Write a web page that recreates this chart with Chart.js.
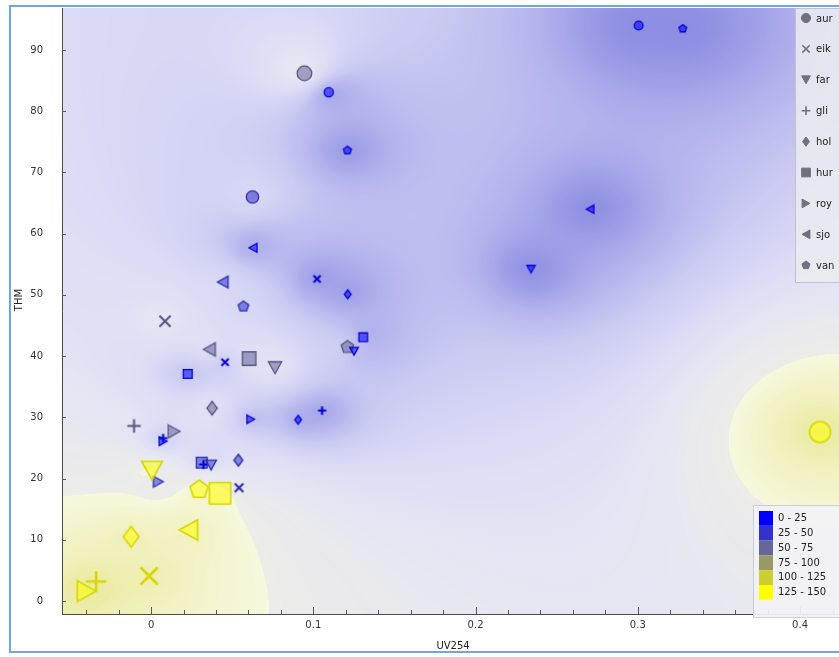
<!DOCTYPE html>
<html>
<head>
<meta charset="utf-8">
<script src="https://cdn.jsdelivr.net/npm/chart.js@4.4.1/dist/chart.umd.min.js"></script>
<style>
  html, body { margin: 0; padding: 0; background: #ffffff; overflow: hidden; }
  #wrap { position: relative; width: 839px; height: 657px; }
  #frame { position: absolute; left: 9px; top: 5px; width: 840px; height: 648px;
           border: 2px solid #6ea8de; border-right: none; box-sizing: border-box; }
  #c { position: absolute; left: 0; top: 0; }
</style>
</head>
<body>
<div id="wrap">
  <div id="frame"></div>
  <canvas id="c" width="839" height="657"></canvas>
</div>
<script>
// Sites, in legend order, and the marker used for each
const categories = ['aur', 'eik', 'far', 'gli', 'hol', 'hur', 'roy', 'sjo', 'van'];
const markerShapes = ['circle', 'cross', 'triDown', 'plus', 'diamond', 'square', 'triRight', 'triLeft', 'pentagon'];

// Samples per site: [UV254, THM, level]
const aur = [[0.0945, 86.2, 66], [0.1095, 83.1, 12], [0.0625, 66.0, 44], [0.3005, 94.0, 8], [0.4123, 27.6, 130]];
const eik = [[0.0086, 45.7, 60], [0.1023, 52.6, 8], [0.0456, 39.0, 10], [0.0542, 18.5, 28], [-0.0012, 4.1, 132]];
const far = [[0.0764, 38.1, 60], [0.1251, 40.8, 12], [0.2342, 54.2, 8], [0.0370, 22.2, 32], [0.0006, 21.3, 138]];
const gli = [[-0.0105, 28.6, 62], [0.0074, 26.6, 10], [0.1054, 31.1, 8], [0.0323, 22.3, 14], [-0.0339, 3.2, 134]];
const hol = [[0.0376, 31.5, 58], [0.0538, 23.0, 40], [0.0906, 29.6, 10], [0.1212, 50.1, 10], [-0.0123, 10.5, 128]];
const hur = [[0.0604, 39.6, 62], [0.0226, 37.1, 14], [0.1307, 43.1, 10], [0.0312, 22.6, 34], [0.0425, 17.6, 146]];
const roy = [[0.0142, 27.7, 58], [0.0614, 29.7, 10], [0.0045, 19.5, 36], [0.0074, 26.1, 12], [-0.0397, 1.6, 140]];
const sjo = [[0.0359, 41.1, 60], [0.0442, 52.1, 44], [0.0628, 57.7, 14], [0.2706, 64.0, 8], [0.0230, 11.6, 136]];
const van = [[0.0569, 48.1, 40], [0.1210, 41.5, 62], [0.1210, 73.6, 12], [0.3277, 93.5, 8], [0.0296, 18.2, 128]];
const samples = [aur, eik, far, gli, hol, hur, roy, sjo, van];

// Level classes shown in the colour key
const levelEdges = [0, 25, 50, 75, 100, 125, 150];
const levelLabels = ['0 - 25', '25 - 50', '50 - 75', '75 - 100', '100 - 125', '125 - 150'];

// Axis extents and tick spacing
const uvMin = -0.0549, uvMax = 0.4240, uvStep = 0.1, uvMinorStep = 0.02;
const thmMin = -2.12, thmMax = 96.86, thmStep = 10;
const xTitle = 'UV254';
const yTitle = 'THM';

const FONT = '"DejaVu Sans", Verdana, sans-serif';
const N_CLASSES = levelLabels.length;

// ---- colours: one per level class, blue (low) to yellow (high) ----
const classColors = levelLabels.map((_, i) => {
  const t = i / (N_CLASSES - 1);
  return [Math.round(255 * t), Math.round(255 * t), Math.round(255 * (1 - t))];
});
function levelClass(v) {
  for (let i = 0; i < N_CLASSES; i++) if (v < levelEdges[i + 1]) return i;
  return N_CLASSES - 1;
}
function rgba(c, a) { return 'rgba(' + c[0] + ',' + c[1] + ',' + c[2] + ',' + a + ')'; }
function shade(c, f) { return [Math.round(c[0] * f), Math.round(c[1] * f), Math.round(c[2] * f)]; }

// Background palette for the interpolated level; cool and warm parts meet at 75
const WARM_FROM = 75;
const coolStops = [[0, [128, 128, 222]], [10, [142, 142, 227]], [18, [160, 160, 232]], [26, [182, 182, 238]],
                   [34, [204, 204, 243]], [42, [219, 219, 246]], [50, [228, 228, 244]], [60, [233, 233, 238]], [75, [236, 236, 232]]];
const warmStops = [[75, [247, 247, 222]], [90, [244, 244, 206]], [110, [240, 240, 188]], [130, [234, 234, 158]], [150, [226, 226, 122]]];
function interpStops(stops, v) {
  let k = 0;
  while (k < stops.length - 2 && v > stops[k + 1][0]) k++;
  const [v0, c0] = stops[k], [v1, c1] = stops[k + 1];
  const f = Math.max(0, Math.min(1, (v - v0) / (v1 - v0)));
  return [0, 1, 2].map(n => Math.round(c0[n] + (c1[n] - c0[n]) * f));
}
const surfaceLUT = [];
for (let i = 0; i <= 600; i++) {
  const v = i / 4;
  surfaceLUT.push(v < WARM_FROM ? interpStops(coolStops, v) : interpStops(warmStops, v));
}

// ---- markers ----
function markerRadius(v) { return 4 + v / 20; }

function traceShape(g, shape, cx, cy, r) {
  g.beginPath();
  const a = r * 0.95;
  switch (shape) {
    case 'circle': g.arc(cx, cy, r, 0, Math.PI * 2); break;
    case 'square': g.rect(cx - a, cy - a, 2 * a, 2 * a); break;
    case 'diamond':
      g.moveTo(cx, cy - r); g.lineTo(cx + r * 0.75, cy); g.lineTo(cx, cy + r); g.lineTo(cx - r * 0.75, cy); g.closePath(); break;
    case 'triDown':
      g.moveTo(cx - a, cy - a * 0.9); g.lineTo(cx + a, cy - a * 0.9); g.lineTo(cx, cy + a * 0.9); g.closePath(); break;
    case 'triRight':
      g.moveTo(cx - a * 0.9, cy - a); g.lineTo(cx + a * 0.9, cy); g.lineTo(cx - a * 0.9, cy + a); g.closePath(); break;
    case 'triLeft':
      g.moveTo(cx + a * 0.9, cy - a); g.lineTo(cx - a * 0.9, cy); g.lineTo(cx + a * 0.9, cy + a); g.closePath(); break;
    case 'pentagon': {
      const R = r * 0.92;
      for (let i = 0; i < 5; i++) {
        const ang = -Math.PI / 2 + i * 2 * Math.PI / 5;
        const px = cx + R * Math.cos(ang), py = cy + R * Math.sin(ang);
        if (i === 0) g.moveTo(px, py); else g.lineTo(px, py);
      }
      g.closePath();
      break;
    }
    case 'cross': {
      const h = r * 0.8;
      g.moveTo(cx - h, cy - h); g.lineTo(cx + h, cy + h); g.moveTo(cx + h, cy - h); g.lineTo(cx - h, cy + h); break;
    }
    case 'plus': {
      const h = r * 0.95;
      g.moveTo(cx - h, cy); g.lineTo(cx + h, cy); g.moveTo(cx, cy - h); g.lineTo(cx, cy + h); break;
    }
  }
}
function paintShape(g, shape, cx, cy, r, fill, stroke, lw) {
  traceShape(g, shape, cx, cy, r);
  if (shape === 'cross' || shape === 'plus') {
    g.lineWidth = lw * 1.6; g.lineCap = 'butt'; g.strokeStyle = stroke; g.stroke();
  } else {
    g.fillStyle = fill; g.fill();
    g.lineWidth = lw; g.lineJoin = 'miter'; g.strokeStyle = stroke; g.stroke();
  }
}

const markerCache = {};
function markerCanvas(shape, v) {
  const key = shape + '|' + v;
  if (markerCache[key]) return markerCache[key];
  const r = markerRadius(v);
  const size = Math.ceil(2 * r + 8);
  const cv = document.createElement('canvas');
  cv.width = size; cv.height = size;
  const g = cv.getContext('2d');
  const c = classColors[levelClass(v)];
  const lw = v > 100 ? 1.6 : 1.3;
  paintShape(g, shape, size / 2, size / 2, r, rgba(c, 0.55), rgba(shade(c, 0.84), 1), lw);
  markerCache[key] = cv;
  return cv;
}

// ---- background surface: inverse-distance weighted level, range-normalised distances ----
const IDW_SMOOTH = 20;   // px, flattens the peak at each sample
const surfacePlugin = {
  id: 'levelSurface',
  beforeDraw(chart) {
    const { ctx, chartArea: area, scales } = chart;
    const W = area.right - area.left, H = area.bottom - area.top;
    const yStretch = W / H;   // equal weight to both axis ranges
    const pts = [];
    chart.data.datasets.forEach(ds => ds.data.forEach(p => {
      pts.push([scales.x.getPixelForValue(p.x), scales.y.getPixelForValue(p.y), p.z]);
    }));
    const w = Math.round(W), h = Math.round(H);
    const off = document.createElement('canvas');
    off.width = w; off.height = h;
    const g = off.getContext('2d');
    const img = g.createImageData(w, h);
    const d = img.data;
    const n = pts.length;
    const s2 = IDW_SMOOTH * IDW_SMOOTH;
    for (let j = 0; j < h; j++) {
      const py = area.top + j + 0.5;
      for (let i = 0; i < w; i++) {
        const px = area.left + i + 0.5;
        let sw = 0, sv = 0;
        for (let k = 0; k < n; k++) {
          const dx = px - pts[k][0], dy = (py - pts[k][1]) * yStretch;
          const wt = 1 / (dx * dx + dy * dy + s2);
          sw += wt; sv += wt * pts[k][2];
        }
        const v = sv / sw;
        const c = surfaceLUT[Math.max(0, Math.min(600, Math.round(v * 4)))];
        const o = (j * w + i) * 4;
        d[o] = c[0]; d[o + 1] = c[1]; d[o + 2] = c[2]; d[o + 3] = 255;
      }
    }
    g.putImageData(img, 0, 0);
    ctx.drawImage(off, area.left, area.top);
  }
};

// ---- inward tick marks, axis titles and the two keys ----
const decorPlugin = {
  id: 'decor',
  afterDraw(chart) {
    const { ctx, chartArea: area, scales } = chart;
    ctx.save();
    ctx.strokeStyle = '#555560';
    ctx.lineWidth = 1;
    const xs = scales.x;
    const first = Math.ceil(xs.min / uvMinorStep - 1e-9), last = Math.floor(xs.max / uvMinorStep + 1e-9);
    for (let m = first; m <= last; m++) {
      const val = m * uvMinorStep;
      const px = Math.round(xs.getPixelForValue(val)) + 0.5;
      const major = Math.abs(val / uvStep - Math.round(val / uvStep)) < 1e-6;
      ctx.beginPath();
      ctx.moveTo(px, area.bottom);
      ctx.lineTo(px, area.bottom - (major ? 7 : 4));
      ctx.stroke();
    }
    const ys = scales.y;
    ys.ticks.forEach(t => {
      const py = Math.round(ys.getPixelForValue(t.value)) + 0.5;
      ctx.beginPath();
      ctx.moveTo(area.left, py);
      ctx.lineTo(area.left + 4, py);
      ctx.stroke();
    });

    // axis titles
    ctx.fillStyle = '#222';
    ctx.font = '10px ' + FONT;
    ctx.textAlign = 'center';
    ctx.textBaseline = 'middle';
    ctx.fillText(xTitle, 453, 646);
    ctx.save();
    ctx.translate(19, 300);
    ctx.rotate(-Math.PI / 2);
    ctx.fillText(yTitle, 0, 0);
    ctx.restore();

    // site key
    const kx = 795, ky = 8, kw = 60, kh = 274;
    ctx.fillStyle = 'rgba(234,234,240,0.88)';
    ctx.fillRect(kx, ky, kw, kh);
    ctx.strokeStyle = 'rgba(190,190,200,0.9)';
    ctx.strokeRect(kx + 0.5, ky + 0.5, kw, kh);
    categories.forEach((name, i) => {
      const cy = 18 + i * 30.9;
      paintShape(ctx, markerShapes[i], 806, cy, 4.6, 'rgba(112,112,128,1)', 'rgba(112,112,128,1)', 1);
      ctx.fillStyle = '#222';
      ctx.textAlign = 'left';
      ctx.textBaseline = 'middle';
      ctx.font = '10px ' + FONT;
      ctx.fillText(name, 816, cy + 1);
    });

    // level key
    const lx = 753, ly = 505, lw = 100, lh = 112;
    ctx.fillStyle = 'rgba(242,242,246,0.92)';
    ctx.fillRect(lx, ly, lw, lh);
    ctx.strokeStyle = 'rgba(200,200,210,0.9)';
    ctx.strokeRect(lx + 0.5, ly + 0.5, lw, lh);
    levelLabels.forEach((lab, i) => {
      const top = 511 + i * 14.8;
      ctx.fillStyle = rgba(classColors[i], 1);
      ctx.fillRect(759, top, 14, 14.8);
      ctx.fillStyle = '#222';
      ctx.textAlign = 'left';
      ctx.textBaseline = 'middle';
      ctx.font = '10px ' + FONT;
      ctx.fillText(lab, 778, top + 7.6);
    });
    ctx.restore();
  }
};

// ---- datasets ----
const datasets = categories.map((name, i) => ({
  label: name,
  data: samples[i].map(s => ({ x: s[0], y: s[1], z: s[2] })),
  pointStyle: ctx => markerCanvas(markerShapes[i], ctx.raw ? ctx.raw.z : 10),
  pointRadius: ctx => markerRadius(ctx.raw ? ctx.raw.z : 10),
  showLine: false
}));

new Chart(document.getElementById('c'), {
  type: 'scatter',
  data: { datasets },
  plugins: [surfacePlugin, decorPlugin],
  options: {
    responsive: false,
    animation: false,
    events: [],
    layout: { autoPadding: false, padding: { left: 0, top: 8, right: 0, bottom: 0 } },
    plugins: { legend: { display: false }, tooltip: { enabled: false } },
    scales: {
      x: {
        type: 'linear', min: uvMin, max: uvMax,
        grid: { display: false },
        border: { display: true, color: '#4a4a55', width: 1 },
        ticks: {
          stepSize: uvStep, includeBounds: false, padding: -3,
          color: '#333', font: { family: FONT, size: 10 },
          callback: v => String(Math.round(v * 100) / 100)
        },
        afterFit: s => { s.height = 43; s.paddingLeft = 0; s.paddingRight = 0; }
      },
      y: {
        type: 'linear', min: thmMin, max: thmMax,
        grid: { display: false, drawTicks: false },
        border: { display: true, color: '#4a4a55', width: 1 },
        ticks: {
          stepSize: thmStep, includeBounds: false, padding: 19,
          color: '#333', font: { family: FONT, size: 10 },
          callback: v => String(Math.round(v))
        },
        afterFit: s => { s.width = 62; s.paddingTop = 0; s.paddingBottom = 0; }
      }
    }
  }
});
</script>
</body>
</html>
